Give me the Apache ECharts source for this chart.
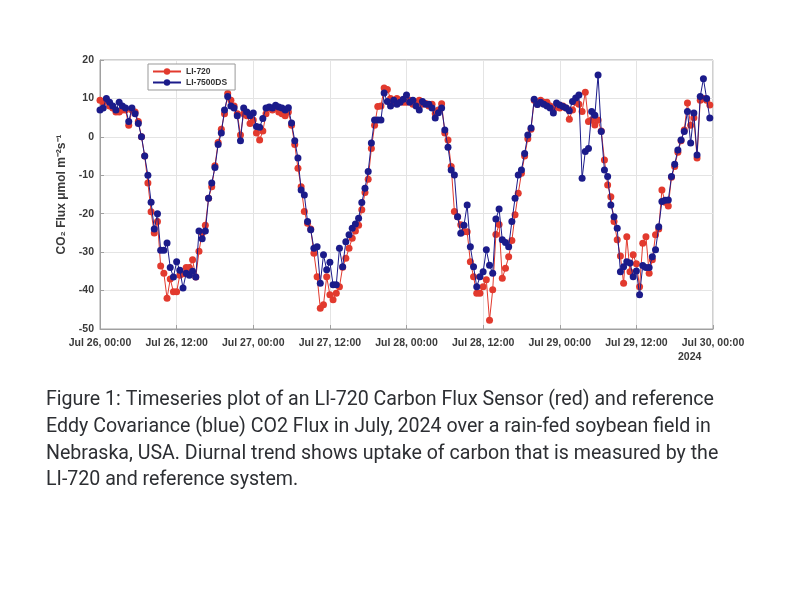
<!DOCTYPE html>
<html>
<head>
<meta charset="utf-8">
<script src="https://cdn.jsdelivr.net/npm/echarts@6/dist/echarts.min.js"></script>
<style>
html,body{margin:0;padding:0;background:#fff;}
#chart{width:800px;height:600px;}
</style>
</head>
<body>
<div id="chart"></div>
<script>
// Half-hourly CO2 flux (umol m-2 s-1), starting Jul 26 2024 00:00
const stepHours = 0.5;
const tickLabels = ['Jul 26, 00:00','Jul 26, 12:00','Jul 27, 00:00','Jul 27, 12:00','Jul 28, 00:00','Jul 28, 12:00','Jul 29, 00:00','Jul 29, 12:00','Jul 30, 00:00'];
const yearLabel = '2024';
const seriesNames = ['LI-720','LI-7500DS'];

const li720 = [
 9.5,9,9.5,8,7.5,6.5,6.5,7,7,3,7,6.5,4,0,-5,-12,-19.5,-25,-22,-33.6,
 -35.5,-42,-37,-40.3,-40.3,-36,-35.6,-34,-34,-32,-36.5,-29.8,-25,-23,-16,-13,-7.5,-1.5,2,6,
 11.3,9.5,8,6,0.5,6,5.5,3.5,4.4,1,-0.8,1.5,6,7.5,7,7.5,6.5,6,5.5,6.5,
 3,-2,-8.2,-13,-19.4,-22.5,-24,-30.3,-36.4,-44.6,-43.7,-36.4,-41.1,-42.4,-40.7,-39,-33.9,-31.6,-29,-26.4,
 -24.5,-23,-19,-14.5,-11,-3,3,7.9,8,12.7,12.3,10,9,10,9.5,9,9,9.5,8.5,9,
 9.5,8.5,8.7,8,8.5,6,7,8.6,1,-0.8,-7.7,-19.4,-20.8,-22.9,-24.7,-24.7,-32.5,-36.4,-40.7,-40.7,
 -39,-37.2,-47.7,-39.8,-25.4,-22.8,-36.8,-34.2,-31.2,-27,-20.3,-14.7,-9.5,-5,-0.5,2,9.5,8.5,9.5,9,
 9,8,7,8,7.5,8,7.5,4.6,7,9,8.5,6.6,11.6,4,4.4,3.1,4.4,1.5,-6,-12.5,
 -15.6,-22,-26.8,-31,-38.1,-26,-35.1,-30.7,-33,-39,-27.7,-26,-35.5,-32,-25.5,-24,-13.8,-17,-18,-10.5,
 -7.7,-4,-1,1.8,8.8,3,5,-5.5,9.5,10,9.5,8.3
];
const li7500ds = [
 7,7.5,10,9,8,7,9,8,7.5,4,7.5,6,3.5,0,-5,-10,-17,-24,-20,-29.5,
 -29.5,-27.6,-34,-36.5,-32.5,-34.7,-39.3,-35.5,-36,-35,-36.5,-24.5,-26.5,-24.5,-16,-12,-8,-2,1,7,
 10.5,8,7.5,5.5,-1,7.5,6.5,5.5,6.2,2.7,2.5,4.8,7.5,7.8,7.5,8.2,7.8,7.5,7,7.6,
 3.6,-1,-5.5,-13.8,-15.1,-22,-24.2,-29,-28.6,-38.1,-30.7,-34.6,-32.6,-38.5,-38.5,-29,-33.8,-27.3,-25.5,-23.8,
 -22.7,-21.2,-17.1,-13.4,-9,-1.6,4.4,4.4,4.4,11.4,9.2,8,9.5,8.5,9,9.8,10.9,9,9.5,8,
 7,9.2,8.5,8.5,7.5,4.9,6.3,7.5,1.8,-2.7,-8.6,-9.9,-20.8,-25.1,-23,-17.7,-28.6,-33.8,-39,-36.4,
 -35.1,-29.4,-33.4,-35.5,-21.4,-18.8,-26.8,-27.5,-28.6,-22,-16,-9.9,-8.6,-4.3,0.5,2.3,9.8,8.4,9,8.5,
 8,7.5,6.2,8.8,8.3,7.9,7.5,6.8,9.2,10.1,10.9,-10.8,-3.8,-3,6.6,5.6,16.1,1.4,-8.6,-10.3,
 -17.7,-20.8,-23.8,-35.1,-33.8,-32.5,-32.8,-36.4,-34.9,-41.1,-33.5,-34,-34,-31.2,-29.4,-23.4,-16.8,-16.5,-16.4,-10.3,
 -7.1,-3.4,-0.8,1.4,6.6,-1.6,6.2,-4.7,10.5,15.1,10,4.9
];

const captionLines = [
 'Figure 1: Timeseries plot of an LI-720 Carbon Flux Sensor (red) and reference',
 'Eddy Covariance (blue) CO2 Flux in July, 2024 over a rain-fed soybean field in',
 'Nebraska, USA. Diurnal trend shows uptake of carbon that is measured by the',
 'LI-720 and reference system.'
];

const toPairs = arr => arr.map((v, i) => [i * stepHours, v]);

const chart = echarts.init(document.getElementById('chart'), null, {renderer: 'canvas'});
const axisFont = {fontFamily: 'Liberation Sans, Arial, sans-serif', fontWeight: 'bold', fontSize: 10.5, color: '#3a3a3a'};

chart.setOption({
  animation: false,
  backgroundColor: '#fff',
  grid: {left: 100, right: 87, top: 60, bottom: 271, show: true, borderColor: '#a0a0a0', borderWidth: 1},
  legend: {
    orient: 'vertical', left: 148, top: 64,
    backgroundColor: '#fff', borderColor: '#999', borderWidth: 1,
    padding: [3, 8, 3, 4], itemGap: 2, itemWidth: 28, itemHeight: 8,
    textStyle: {fontFamily: 'Liberation Sans, Arial, sans-serif', fontWeight: 'bold', fontSize: 8.5, color: '#333'},
    data: seriesNames
  },
  xAxis: {
    type: 'value', min: 0, max: 96, interval: 12,
    axisLine: {show: true, onZero: false, lineStyle: {color: '#a0a0a0'}},
    axisTick: {show: true, inside: true, length: 4, lineStyle: {color: '#a0a0a0'}},
    splitLine: {show: true, lineStyle: {color: '#e4e4e4', width: 1}},
    axisLabel: Object.assign({}, axisFont, {
      margin: 7,
      formatter: function (v) {
        const idx = Math.round(v / 12);
        if (idx === tickLabels.length - 1) return '{a|' + tickLabels[idx] + '}\n{b|' + yearLabel + '}';
        return '{a|' + tickLabels[idx] + '}';
      },
      rich: {
        a: Object.assign({}, axisFont, {lineHeight: 14}),
        b: Object.assign({}, axisFont, {lineHeight: 14, width: 70, align: 'left'})
      }
    })
  },
  yAxis: {
    type: 'value', min: -50, max: 20, interval: 10,
    name: 'CO₂ Flux μmol m⁻²s⁻¹',
    nameLocation: 'middle', nameRotate: 90, nameGap: 32,
    nameTextStyle: Object.assign({}, axisFont, {fontSize: 12}),
    axisLine: {show: true, onZero: false, lineStyle: {color: '#a0a0a0'}},
    axisTick: {show: true, inside: true, length: 4, lineStyle: {color: '#a0a0a0'}},
    splitLine: {show: true, lineStyle: {color: '#e4e4e4', width: 1}},
    axisLabel: Object.assign({}, axisFont, {margin: 6})
  },
  series: [
    {
      name: seriesNames[0], type: 'line', data: toPairs(li720),
      symbol: 'circle', symbolSize: 7,
      itemStyle: {color: '#e23a2e'},
      lineStyle: {color: '#e23a2e', width: 1},
      z: 2
    },
    {
      name: seriesNames[1], type: 'line', data: toPairs(li7500ds),
      symbol: 'circle', symbolSize: 7,
      itemStyle: {color: '#1b1b8a'},
      lineStyle: {color: '#1b1b8a', width: 1},
      z: 3
    }
  ],
  graphic: [{
    type: 'text', left: 46, top: 387,
    style: {
      text: captionLines.join('\n'),
      fontFamily: 'Roboto, sans-serif', fontSize: 19.6, lineHeight: 26.7,
      fill: '#2d2f33'
    }
  }]
});
</script>
</body>
</html>
